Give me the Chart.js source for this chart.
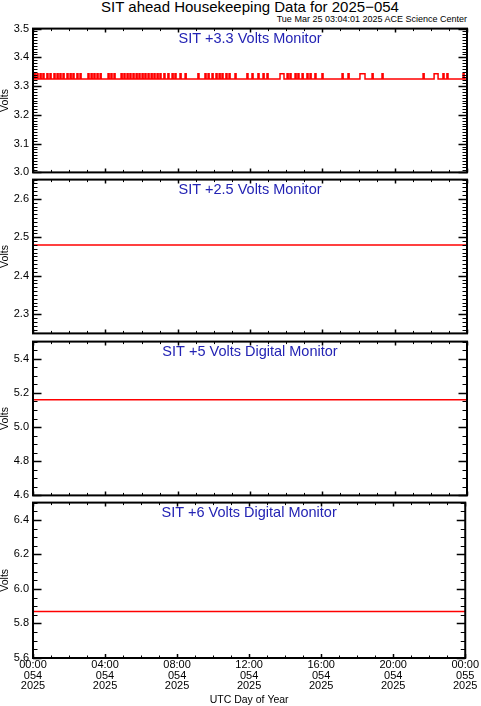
<!DOCTYPE html>
<html>
<head>
<meta charset="utf-8">
<script src="https://cdn.jsdelivr.net/npm/chart.js@4.4.1/dist/chart.umd.min.js"></script>
<style>
  body { margin: 0; width: 481px; height: 706px; overflow: hidden; background: #fff; position: relative; font-family: "Liberation Sans", Arial, sans-serif; }
  canvas { position: absolute; left: 0; }
  #title { position: absolute; left: 0; width: 500px; top: -2px; text-align: center; font-size: 15px; color: #000; }
  #stamp { position: absolute; right: 14px; top: 14px; font-size: 9px; color: #000; }
</style>
</head>
<body>
<div id="title">SIT ahead Housekeeping Data for 2025−054</div>
<div id="stamp">Tue Mar 25 03:04:01 2025 ACE Science Center</div>
<canvas id="p1" width="481" height="165" style="top:18px"></canvas>
<canvas id="p2" width="481" height="175" style="top:169px"></canvas>
<canvas id="p3" width="481" height="175" style="top:331px"></canvas>
<canvas id="p4" width="481" height="214" style="top:492px"></canvas>
<script>
// ===== Data (hours of day 054) =====
const xTicks = [0, 4, 8, 12, 16, 20, 24];
const xTickLabels = [
  ["00:00", "054", "2025"],
  ["04:00", "054", "2025"],
  ["08:00", "054", "2025"],
  ["12:00", "054", "2025"],
  ["16:00", "054", "2025"],
  ["20:00", "054", "2025"],
  ["00:00", "055", "2025"],
];

// +3.3 V monitor: baseline reading with short flips to the next ADC step
const v33Base = 3.325;
const v33High = 3.343;
const v33Pulses = [
  [0.06, 0.12], [0.22, 0.28], [0.39, 0.45], [0.55, 0.61], [0.77, 0.83], [0.94, 1.0],
  [1.16, 1.22], [1.33, 1.39], [1.49, 1.55], [1.66, 1.72], [1.88, 1.94], [2.05, 2.11],
  [2.21, 2.27], [2.43, 2.49], [2.6, 2.66], [3.04, 3.1], [3.21, 3.27], [3.37, 3.43],
  [3.54, 3.6], [3.71, 3.77], [4.15, 4.21], [4.31, 4.37], [4.48, 4.54], [4.87, 4.93],
  [5.03, 5.09], [5.2, 5.26], [5.36, 5.42], [5.53, 5.59], [5.7, 5.76], [5.86, 5.92],
  [6.03, 6.09], [6.19, 6.25], [6.36, 6.42], [6.53, 6.59], [6.69, 6.75], [6.86, 6.92],
  [7.02, 7.08], [7.24, 7.3], [7.46, 7.52], [7.69, 7.75], [7.85, 7.91], [8.13, 8.19],
  [8.41, 8.47], [9.12, 9.18], [9.51, 9.57], [9.68, 9.74], [9.9, 9.96], [10.12, 10.18],
  [10.29, 10.35], [10.45, 10.51], [10.67, 10.73], [10.84, 10.9], [11.17, 11.23],
  [11.83, 11.89], [12.11, 12.17], [12.44, 12.5], [12.72, 12.78], [12.94, 13.0],
  [13.66, 13.88], [14.05, 14.11], [14.21, 14.27], [14.49, 14.55], [14.65, 14.71],
  [14.88, 14.94], [15.15, 15.21], [15.32, 15.38], [15.59, 15.65], [15.98, 16.04],
  [17.09, 17.15], [17.42, 17.48], [18.08, 18.36], [18.75, 18.81], [19.3, 19.36],
  [21.57, 21.63], [22.18, 22.4], [22.67, 22.73], [22.89, 22.95], [23.78, 23.84],
];

const flatHours = [0, 24];
const v25 = [2.48, 2.48];
const v5 = [5.16, 5.16];
const v6 = [5.87, 5.87];

const yTicks1 = [3.0, 3.1, 3.2, 3.3, 3.4, 3.5];
const yTicks2 = [2.3, 2.4, 2.5, 2.6];
const yTicks3 = [4.6, 4.8, 5.0, 5.2, 5.4];
const yTicks4 = [5.6, 5.8, 6.0, 6.2, 6.4];

// ===== Helpers =====
const FONT = "'Liberation Sans', Arial, sans-serif";

// IDL style frame: box, inward ticks on all four sides, label inside the plot
const idlFrame = {
  id: "idlFrame",
  afterDatasetsDraw(chart, args, opts) {
    const { ctx, chartArea: a, scales: { x, y } } = chart;
    ctx.save();
    ctx.strokeStyle = "#000";

    const yMajor = y.ticks.map((t) => t.value);
    const ny = Math.round((y.max - y.min) / opts.yMinor);
    for (let i = 0; i <= ny; i++) {
      const v = y.min + i * opts.yMinor;
      const major = yMajor.some((m) => Math.abs(m - v) < opts.yMinor / 2);
      const len = major ? 8.5 : 4.5;
      const py = Math.round(y.getPixelForValue(v)) + 0.5;
      ctx.lineWidth = major ? 1.5 : 1;
      ctx.beginPath();
      ctx.moveTo(a.left, py);
      ctx.lineTo(a.left + len, py);
      ctx.moveTo(a.right, py);
      ctx.lineTo(a.right - len, py);
      ctx.stroke();
    }

    const nx = Math.round((x.max - x.min) / opts.xMinor);
    for (let i = 0; i <= nx; i++) {
      const v = x.min + i * opts.xMinor;
      const major = xTicks.includes(v);
      const len = major ? 4 : 2.5;
      const px = Math.round(x.getPixelForValue(v)) + 0.5;
      ctx.lineWidth = major ? 1.5 : 1;
      ctx.beginPath();
      ctx.moveTo(px, a.bottom);
      ctx.lineTo(px, a.bottom - len);
      ctx.moveTo(px, a.top);
      ctx.lineTo(px, a.top + len);
      ctx.stroke();
    }

    ctx.lineWidth = 2;
    ctx.strokeRect(a.left, a.top, a.width, a.height);

    ctx.fillStyle = "#2323b4";
    ctx.font = "14.5px " + FONT;
    ctx.textAlign = "center";
    ctx.textBaseline = "middle";
    ctx.fillText(opts.label, (a.left + a.right) / 2, a.top + 10);
    ctx.restore();
  },
};

function panel(id, cfg) {
  const showX = !!cfg.showX;
  return new Chart(document.getElementById(id), {
    type: "line",
    data: {
      datasets: [
        {
          data: cfg.points,
          borderColor: "#ff0000",
          borderWidth: 1.5,
          pointRadius: 0,
          stepped: cfg.stepped || false,
          tension: 0,
        },
      ],
    },
    options: {
      responsive: false,
      animation: false,
      devicePixelRatio: 1,
      layout: { padding: { left: 0, right: 14, top: 10, bottom: showX ? 0 : 8 } },
      plugins: {
        legend: { display: false },
        tooltip: { enabled: false },
        idlFrame: { label: cfg.label, yMinor: cfg.yMinor, xMinor: 1 },
      },
      scales: {
        x: {
          type: "linear",
          min: 0,
          max: 24,
          display: showX,
          grid: { display: false, drawTicks: false },
          border: { display: false },
          afterBuildTicks: (s) => {
            s.ticks = xTicks.map((v) => ({ value: v }));
          },
          afterFit: (s) => {
            if (showX) s.height = 48;
          },
          ticks: {
            padding: 2,
            maxRotation: 0,
            autoSkip: false,
            color: "#000",
            font: { family: FONT, size: 11, lineHeight: 0.95 },
            callback: (v) => xTickLabels[xTicks.indexOf(v)],
          },
          title: {
            display: showX,
            text: "UTC Day of Year",
            color: "#000",
            font: { family: FONT, size: 10.5, lineHeight: 1 },
            padding: { top: 0, bottom: 1 },
          },
        },
        y: {
          min: cfg.min,
          max: cfg.max,
          grid: { display: false, drawTicks: false },
          border: { display: false },
          afterBuildTicks: (s) => {
            s.ticks = cfg.ticks.map((v) => ({ value: v }));
          },
          afterFit: (s) => {
            s.width = 33;
          },
          ticks: {
            padding: 4,
            color: "#000",
            font: { family: FONT, size: 11 },
            callback: (v) => v.toFixed(1),
          },
          title: {
            display: true,
            text: "Volts",
            color: "#000",
            font: { family: FONT, size: 10.5, lineHeight: 1 },
            padding: 0,
          },
        },
      },
    },
    plugins: [idlFrame],
  });
}

// +3.3 V series built from the pulse list
const v33Points = [{ x: 0, y: v33Base }];
v33Pulses.forEach(([s, e]) => {
  v33Points.push({ x: s, y: v33High }, { x: e, y: v33Base });
});
v33Points.push({ x: 24, y: v33Base });

const flat = (vals) => flatHours.map((h, i) => ({ x: h, y: vals[i] }));

panel("p1", { label: "SIT +3.3 Volts Monitor", points: v33Points, stepped: "before", min: 3.0, max: 3.5, ticks: yTicks1, yMinor: 0.01 });
panel("p2", { label: "SIT +2.5 Volts Monitor", points: flat(v25), min: 2.25, max: 2.65, ticks: yTicks2, yMinor: 0.01 });
panel("p3", { label: "SIT +5 Volts Digital Monitor", points: flat(v5), min: 4.6, max: 5.5, ticks: yTicks3, yMinor: 0.05 });
panel("p4", { label: "SIT +6 Volts Digital Monitor", points: flat(v6), min: 5.6, max: 6.5, ticks: yTicks4, yMinor: 0.05, showX: true });
</script>
</body>
</html>
